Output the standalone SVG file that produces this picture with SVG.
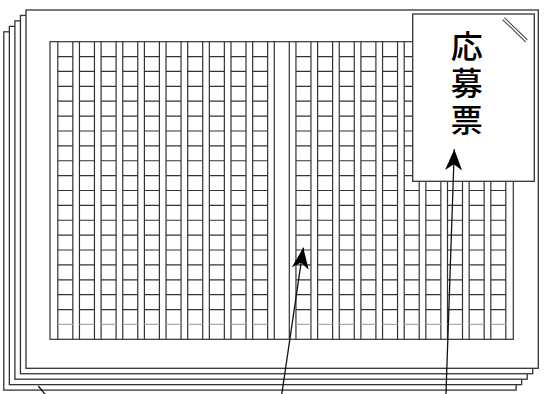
<svg xmlns="http://www.w3.org/2000/svg" xmlns:xlink="http://www.w3.org/1999/xlink" width="547" height="394" viewBox="0 0 547 394">
<style>
.sheet{fill:#fff;stroke:#333;stroke-width:1.3}
.grid{fill:none;stroke:#333;stroke-width:1.2}
.rung{stroke:#333;stroke-width:1.2;stroke-dasharray:15 6.65}
.rung.light{stroke:#aaa}
.form{fill:#fff;stroke:#333;stroke-width:1.3}
.mark{stroke:#444;stroke-width:1.1}
.label{font-family:"Noto Sans CJK JP","Noto Sans CJK SC",sans-serif;font-size:32px;font-weight:500;fill:#000;writing-mode:vertical-rl;letter-spacing:5px}
.conn{fill:none;stroke:#111;stroke-width:1.3}
</style>
<defs>
<marker id="arrow" markerUnits="userSpaceOnUse" viewBox="-24 -12 26 24" refX="0" refY="0" markerWidth="26" markerHeight="24" orient="auto" overflow="visible">
<path d="M0,0 L-21,-8.5 L-15,0 L-21,8.5 Z" fill="#000"/>
</marker>
<g id="rungrow">
<line x1="57.8" y1="0" x2="267.65" y2="0"/>
<line x1="295.95" y1="0" x2="505.8" y2="0"/>
</g>
</defs>
<g id="stack">
<rect class="sheet" x="3.8" y="31.8" width="512.3" height="358.3"/>
<rect class="sheet" x="9.35" y="26.35" width="512.3" height="358.3"/>
<rect class="sheet" x="14.9" y="20.9" width="512.3" height="358.3"/>
<rect class="sheet" x="20.45" y="15.45" width="512.3" height="358.3"/>
<rect class="sheet" x="26" y="10" width="512.3" height="358.3"/>
</g>
<g id="manuscript">
<rect class="grid" x="50" y="41.7" width="463.3" height="297.6"/>
<path class="grid" d="M57.8 41.7V339.3M72.8 41.7V339.3M79.45 41.7V339.3M94.45 41.7V339.3M101.1 41.7V339.3M116.1 41.7V339.3M122.75 41.7V339.3M137.75 41.7V339.3M144.4 41.7V339.3M159.4 41.7V339.3M166.05 41.7V339.3M181.05 41.7V339.3M187.7 41.7V339.3M202.7 41.7V339.3M209.35 41.7V339.3M224.35 41.7V339.3M231 41.7V339.3M246 41.7V339.3M252.65 41.7V339.3M267.65 41.7V339.3M274.3 41.7V339.3M289.3 41.7V339.3M295.95 41.7V339.3M310.95 41.7V339.3M317.6 41.7V339.3M332.6 41.7V339.3M339.25 41.7V339.3M354.25 41.7V339.3M360.9 41.7V339.3M375.9 41.7V339.3M382.55 41.7V339.3M397.55 41.7V339.3M404.2 41.7V339.3M419.2 41.7V339.3M425.85 41.7V339.3M440.85 41.7V339.3M447.5 41.7V339.3M462.5 41.7V339.3M469.15 41.7V339.3M484.15 41.7V339.3M490.8 41.7V339.3M505.8 41.7V339.3"/>
<g class="rung">
<use xlink:href="#rungrow" y="56.58"/>
<use xlink:href="#rungrow" y="71.46"/>
<use xlink:href="#rungrow" y="86.34"/>
<use xlink:href="#rungrow" y="101.22"/>
<use xlink:href="#rungrow" y="116.1"/>
<use xlink:href="#rungrow" y="130.98"/>
<use xlink:href="#rungrow" y="145.86"/>
<use xlink:href="#rungrow" y="160.74"/>
<use xlink:href="#rungrow" y="175.62"/>
<use xlink:href="#rungrow" y="190.5"/>
<use xlink:href="#rungrow" y="205.38"/>
<use xlink:href="#rungrow" y="220.26"/>
<use xlink:href="#rungrow" y="235.14"/>
<use xlink:href="#rungrow" y="250.02"/>
<use xlink:href="#rungrow" y="264.9"/>
<use xlink:href="#rungrow" y="279.78"/>
<use xlink:href="#rungrow" y="294.66"/>
<use xlink:href="#rungrow" y="309.54"/>
</g>
<g class="rung light">
<use xlink:href="#rungrow" y="324.42"/>
</g>
</g>
<g id="form">
<rect class="form" x="412.7" y="14" width="121.6" height="167.3"/>
<line class="mark" x1="504.4" y1="17.7" x2="527.4" y2="39.9"/>
<line class="mark" x1="502.6" y1="19.6" x2="525.6" y2="41.8"/>
<text class="label" x="466.7" y="30">応募票</text>
</g>
<g id="connectors">
<line class="conn" x1="281.5" y1="396" x2="303.3" y2="247.7" marker-end="url(#arrow)"/>
<line class="conn" x1="445.9" y1="396" x2="454.3" y2="149.3" marker-end="url(#arrow)"/>
<line class="conn" x1="46.5" y1="396" x2="38.3" y2="386"/>
</g>
</svg>
